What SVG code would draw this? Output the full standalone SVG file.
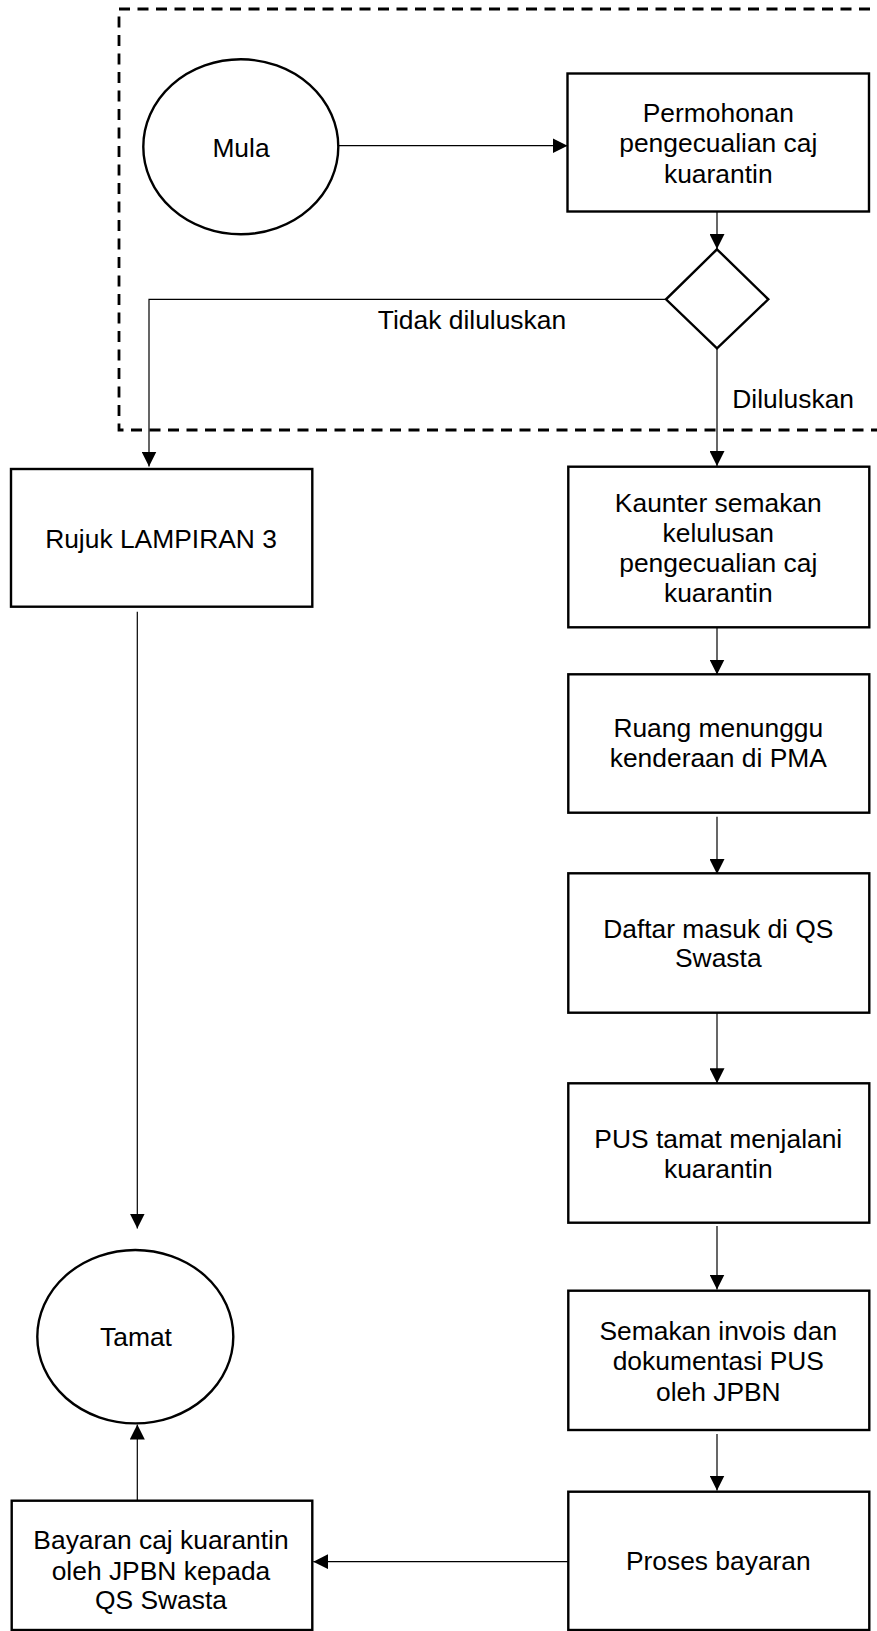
<svg xmlns="http://www.w3.org/2000/svg" width="877" height="1631" viewBox="0 0 877 1631">
<style>
text{font-family:"Liberation Sans",Arial,sans-serif;font-size:26.4px;fill:#000;text-anchor:middle}
.box{fill:#fff;stroke:#000;stroke-width:2.4}
.conn{fill:none;stroke:#000;stroke-width:1.2}
.frame{fill:none;stroke:#000;stroke-width:2.8;stroke-dasharray:11 7.5}
</style>
<defs>
<marker id="arr" markerUnits="userSpaceOnUse" markerWidth="15" markerHeight="15" refX="15" refY="7.5" orient="auto">
<path d="M0,0 L15,7.5 L0,15 z" fill="#000"/>
</marker>
</defs>
<rect x="0" y="0" width="877" height="1631" fill="#fff"/>
<g id="frame">
<rect class="frame" x="119" y="9" width="800" height="421"/>
</g>
<g id="connectors">
<path class="conn" d="M338.3,145.7 H567.5" marker-end="url(#arr)"/>
<path class="conn" d="M717,212 V249" marker-end="url(#arr)"/>
<path class="conn" d="M666,299.3 H149 V466.5" marker-end="url(#arr)"/>
<path class="conn" d="M717,348.3 V466" marker-end="url(#arr)"/>
<path class="conn" d="M717,627.3 V674.5" marker-end="url(#arr)"/>
<path class="conn" d="M717,816.7 V874" marker-end="url(#arr)"/>
<path class="conn" d="M717,1012.7 V1083.3" marker-end="url(#arr)"/>
<path class="conn" d="M717,1226 V1289.5" marker-end="url(#arr)"/>
<path class="conn" d="M717,1434 V1490.5" marker-end="url(#arr)"/>
<path class="conn" d="M137.3,611.7 V1228.5" marker-end="url(#arr)"/>
<path class="conn" d="M137.3,1500 V1424.5" marker-end="url(#arr)"/>
<path class="conn" d="M568,1561.7 H313.3" marker-end="url(#arr)"/>
<text x="472" y="329">Tidak diluluskan</text>
<text x="732.3" y="408" style="text-anchor:start">Diluluskan</text>
</g>
<g id="mula">
<ellipse class="box" cx="240.8" cy="146.8" rx="97.5" ry="87.5"/>
<text x="241" y="157.3">Mula</text>
</g>
<g id="permohonan">
<rect class="box" x="567.5" y="73.5" width="301.5" height="138"/>
<text x="718.3" y="121.7">Permohonan</text>
<text x="718.3" y="152.2">pengecualian caj</text>
<text x="718.3" y="182.7">kuarantin</text>
</g>
<g id="keputusan">
<polygon class="box" points="717,249.3 768.3,299.3 717,348.3 666,299.3"/>
</g>
<g id="rujuk">
<rect class="box" x="11" y="469" width="301.3" height="137.7"/>
<text x="161" y="548.3">Rujuk LAMPIRAN 3</text>
</g>
<g id="kaunter">
<rect class="box" x="568.3" y="466.7" width="301" height="160.6"/>
<text x="718.3" y="511.7">Kaunter semakan</text>
<text x="718.3" y="541.7">kelulusan</text>
<text x="718.3" y="571.7">pengecualian caj</text>
<text x="718.3" y="601.7">kuarantin</text>
</g>
<g id="ruang">
<rect class="box" x="568.3" y="674.3" width="301" height="138.4"/>
<text x="718.3" y="736.7">Ruang menunggu</text>
<text x="718.3" y="767.3">kenderaan di PMA</text>
</g>
<g id="daftar">
<rect class="box" x="568.3" y="873.3" width="301" height="139.4"/>
<text x="718.3" y="938.3">Daftar masuk di QS</text>
<text x="718.3" y="967.3">Swasta</text>
</g>
<g id="pus">
<rect class="box" x="568.3" y="1083.3" width="301" height="139.4"/>
<text x="718.3" y="1148.3">PUS tamat menjalani</text>
<text x="718.3" y="1178.3">kuarantin</text>
</g>
<g id="semakan">
<rect class="box" x="568.3" y="1290.7" width="301" height="139.3"/>
<text x="718.3" y="1340">Semakan invois dan</text>
<text x="718.3" y="1370.3">dokumentasi PUS</text>
<text x="718.3" y="1400.7">oleh JPBN</text>
</g>
<g id="proses">
<rect class="box" x="568.3" y="1491.7" width="301" height="138.3"/>
<text x="718.3" y="1570">Proses bayaran</text>
</g>
<g id="tamat">
<ellipse class="box" cx="135.3" cy="1336.7" rx="98" ry="86.7"/>
<text x="136" y="1345.7">Tamat</text>
</g>
<g id="bayaran">
<rect class="box" x="11.7" y="1500.7" width="300.6" height="129.3"/>
<text x="161" y="1549">Bayaran caj kuarantin</text>
<text x="161" y="1579.5">oleh JPBN kepada</text>
<text x="161" y="1609">QS Swasta</text>
</g>
</svg>
